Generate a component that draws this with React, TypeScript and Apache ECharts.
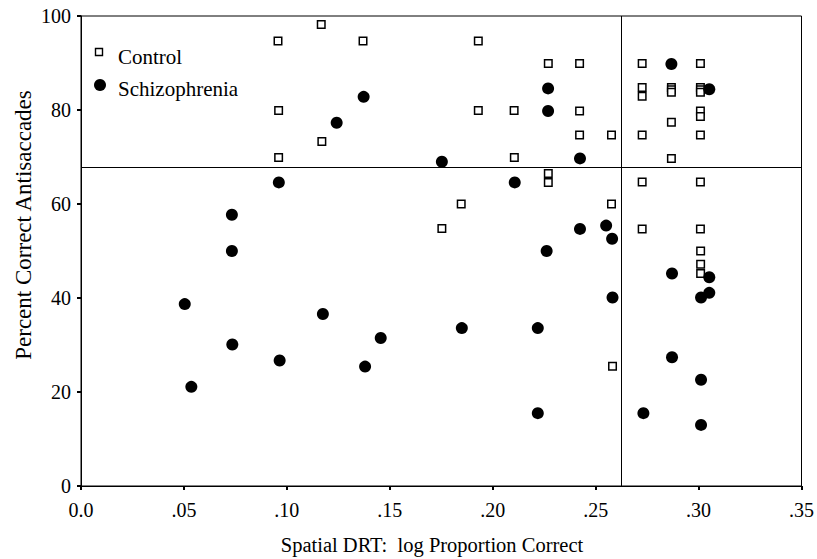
import React, { useEffect, useRef } from "react";
import * as echarts from "echarts";

const xTicks = [0, 0.05, 0.1, 0.15, 0.2, 0.25, 0.3, 0.35];
const yTicks = [0, 20, 40, 60, 80, 100];

const controlPoints: [number, number][] = [
  [0.0957, 94.7], [0.096, 79.9], [0.096, 69.9], [0.1167, 98.2], [0.117, 73.3],
  [0.137, 94.7], [0.1753, 54.8], [0.1847, 60.0], [0.193, 94.7], [0.193, 79.9],
  [0.2104, 79.9], [0.2105, 69.9], [0.227, 89.9], [0.227, 66.5], [0.227, 64.6],
  [0.2422, 89.9], [0.2422, 79.8], [0.2422, 74.7], [0.2577, 74.7], [0.2577, 60.0],
  [0.2582, 25.5], [0.2726, 89.9], [0.2726, 84.8], [0.2726, 82.9], [0.2726, 74.7],
  [0.2726, 64.7], [0.2726, 54.7], [0.2868, 84.8], [0.2868, 84.3], [0.2868, 83.8],
  [0.2868, 77.4], [0.2868, 69.7], [0.3009, 89.9], [0.3009, 84.8], [0.3009, 84.3],
  [0.3009, 83.8], [0.3009, 79.8], [0.3009, 78.6], [0.3009, 74.7], [0.3009, 64.7],
  [0.3009, 54.7], [0.301, 50.0], [0.301, 47.2], [0.301, 45.2],
];

const schizPoints: [number, number][] = [
  [0.0504, 38.7], [0.0536, 21.1], [0.0733, 57.7], [0.0733, 50.0], [0.0735, 30.1],
  [0.0961, 64.6], [0.0965, 26.7], [0.1175, 36.6], [0.1242, 77.3], [0.1373, 82.8],
  [0.138, 25.4], [0.1456, 31.5], [0.1753, 69.0], [0.185, 33.6], [0.2107, 64.6],
  [0.2219, 33.6], [0.2219, 15.5], [0.2269, 84.6], [0.2269, 79.8], [0.2262, 50.0],
  [0.2424, 69.7], [0.2424, 54.7], [0.2551, 55.4], [0.258, 52.6], [0.2582, 40.1],
  [0.2732, 15.5], [0.2868, 89.8], [0.2871, 45.2], [0.2871, 27.4], [0.3012, 40.1],
  [0.3012, 22.6], [0.3012, 13.0], [0.3052, 84.4], [0.3052, 44.4], [0.3052, 41.1],
];

const refX = 0.2624;
const refY = 67.8;

const seriesNames = ["Control", "Schizophrenia"];
const xTitle = "Spatial DRT:  log Proportion Correct";
const yTitle = "Percent Correct Antisaccades";

const FONT = "'Liberation Serif', 'Times New Roman', serif";

function fmtX(v: number): string {
  if (Math.abs(v) < 1e-9) return "0.0";
  return "." + String(Math.round(v * 100)).padStart(2, "0");
}

export default function App() {
  const ref = useRef<HTMLDivElement>(null);
  useEffect(() => {
    document.body.style.margin = "0";
    if (!ref.current) return;
    const chart = echarts.init(ref.current, undefined, { renderer: "svg" });
    chart.setOption({
      animation: false,
      backgroundColor: "#fff",
      grid: {
        left: 81,
        right: 14,
        top: 16,
        bottom: 73,
        show: true,
        borderColor: "#000",
        borderWidth: 1,
        backgroundColor: "transparent",
      },
      xAxis: {
        type: "value",
        min: xTicks[0],
        max: xTicks[xTicks.length - 1],
        interval: 0.05,
        axisLine: { show: true, lineStyle: { color: "#000", width: 1 } },
        axisTick: { show: true, length: 4, lineStyle: { color: "#000", width: 2 } },
        axisLabel: {
          formatter: fmtX,
          fontFamily: FONT,
          fontSize: 20,
          color: "#000",
          margin: 14,
        },
        splitLine: { show: false },
      },
      yAxis: {
        type: "value",
        min: yTicks[0],
        max: yTicks[yTicks.length - 1],
        interval: 20,
        axisLine: { show: true, lineStyle: { color: "#000", width: 1 } },
        axisTick: { show: true, length: 4, lineStyle: { color: "#000", width: 2 } },
        axisLabel: {
          fontFamily: FONT,
          fontSize: 20,
          color: "#000",
          margin: 10,
        },
        splitLine: { show: false },
      },
      graphic: [
        {
          type: "text",
          x: 432,
          y: 545,
          style: {
            text: xTitle,
            font: `20.5px ${FONT}`,
            fill: "#000",
            align: "center",
            verticalAlign: "middle",
          },
        },
        {
          type: "text",
          x: 23,
          y: 225,
          rotation: Math.PI / 2,
          style: {
            text: yTitle,
            font: `23px ${FONT}`,
            fill: "#000",
            align: "center",
            verticalAlign: "middle",
          },
        },
        {
          type: "rect",
          shape: { x: 95.5, y: 48.5, width: 7, height: 7 },
          style: { fill: "#fff", stroke: "#000", lineWidth: 1.4 },
        },
        {
          type: "text",
          x: 118,
          y: 57,
          style: {
            text: seriesNames[0],
            font: `21px ${FONT}`,
            fill: "#000",
            verticalAlign: "middle",
          },
        },
        {
          type: "circle",
          shape: { cx: 100, cy: 85, r: 6 },
          style: { fill: "#000" },
        },
        {
          type: "text",
          x: 118,
          y: 89,
          style: {
            text: seriesNames[1],
            font: `21px ${FONT}`,
            fill: "#000",
            verticalAlign: "middle",
          },
        },
      ],
      series: [
        {
          name: seriesNames[0],
          type: "scatter",
          symbol: "rect",
          symbolSize: 7.5,
          data: controlPoints,
          itemStyle: { color: "#fff", borderColor: "#000", borderWidth: 1.5, opacity: 1 },
          z: 2,
          markLine: {
            silent: true,
            precision: 4,
            symbol: ["none", "none"],
            label: { show: false },
            lineStyle: { color: "#000", width: 1, type: "solid" },
            data: [{ xAxis: refX }, { yAxis: refY }],
          },
        },
        {
          name: seriesNames[1],
          type: "scatter",
          symbol: "circle",
          symbolSize: 12,
          data: schizPoints,
          itemStyle: { color: "#000", opacity: 1 },
          z: 3,
        },
      ],
    });
    return () => chart.dispose();
  }, []);
  return <div ref={ref} style={{ width: 817, height: 559 }} />;
}
